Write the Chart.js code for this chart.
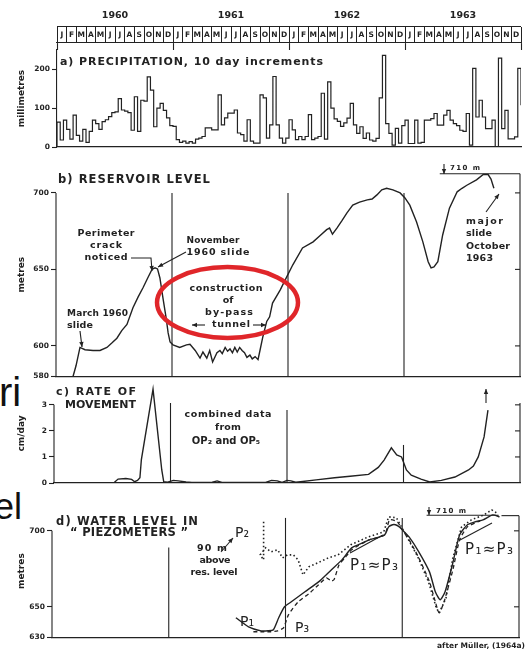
<!DOCTYPE html>
<html>
<head>
<meta charset="utf-8">
<script src="https://cdn.jsdelivr.net/npm/chart.js@4.4.0/dist/chart.umd.min.js"></script>
<style>
  html, body { margin: 0; padding: 0; background: #fff; }
  #wrap { position: relative; width: 531px; height: 653px; overflow: hidden; background: #fff; }
  canvas { position: absolute; left: 0; top: 0; }
  .frag { position: absolute; font-family: "Liberation Sans", Arial, sans-serif; color: #111; line-height: 1; white-space: nowrap; }
</style>
</head>
<body>
<div id="wrap">
  <div class="frag" style="left:-1px; top:372px; font-size:40px;">ri</div>
  <div class="frag" style="left:-6px; top:489px; font-size:36px;">el</div>
  <canvas id="cHead" width="531" height="653"></canvas>
  <canvas id="cRain" width="531" height="653"></canvas>
  <canvas id="cRes" width="531" height="653"></canvas>
  <canvas id="cRate" width="531" height="653"></canvas>
  <canvas id="cPiezo" width="531" height="653"></canvas>
</div>
<script>
// ---- data ----
const MONTHS = 'JFMAMJJASOND'.repeat(4).split('');
const YEARS = ['1960', '1961', '1962', '1963'];
const YEAR_MID = [6, 18, 30, 42];
const YEAR_LINES = [12, 24, 36];

// precipitation, mm per 10-day increment (3 per month)
const PRECIP_1960 = [64, 18, 69, 45, 20, 82, 30, 15, 45, 12, 40, 69, 60, 45, 65, 70, 78, 88, 90, 124, 95, 92, 88, 43, 129, 40, 120, 118, 180, 146, 52, 100, 112, 94, 75, 55];
const PRECIP_1961 = [53, 19, 12, 15, 10, 14, 10, 20, 23, 27, 49, 49, 44, 44, 134, 57, 75, 87, 87, 95, 36, 32, 15, 70, 15, 10, 10, 134, 126, 23, 57, 181, 57, 23, 10, 23];
const PRECIP_1962 = [70, 44, 19, 27, 19, 27, 83, 19, 23, 27, 138, 20, 167, 100, 72, 66, 53, 62, 74, 112, 57, 35, 52, 22, 36, 18, 15, 22, 126, 235, 60, 35, 5, 48, 10, 55];
const PRECIP_1963 = [69, 9, 9, 69, 10, 12, 69, 69, 73, 86, 56, 56, 82, 94, 69, 60, 55, 43, 40, 86, 5, 202, 77, 120, 77, 47, 47, 69, 0, 228, 47, 94, 21, 21, 26, 202];
const PRECIP = [...PRECIP_1960, ...PRECIP_1961, ...PRECIP_1962, ...PRECIP_1963];
const PRECIP_END = 107;
const PRECIP_TICKS = [0, 100, 200];

// reservoir level (months from Jan 1960, metres)
const RES_MONTH = [1.76, 2.07, 2.48, 3.0, 3.83, 4.55, 5.27, 5.8, 6.3, 6.8, 7.34, 7.96, 8.5, 9.0, 9.5, 9.93, 10.24, 10.5, 10.75, 11.07, 11.4, 11.6, 11.8, 12.1, 12.8, 13.5, 13.86, 14.4, 14.9, 15.2, 15.6, 15.9, 16.2, 16.65, 16.96, 17.2, 17.5, 17.75, 18.0, 18.25, 18.5, 18.75, 19.0, 19.25, 19.5, 19.75, 20.06, 20.3, 20.6, 20.9, 21.1, 21.4, 21.8, 22.1, 22.4, 23.2, 23.7, 24.5, 25.5, 26.6, 27.3, 28.0, 28.3, 28.6, 29.06, 29.6, 30.1, 30.7, 31.4, 32.2, 32.7, 33.2, 33.7, 34.2, 34.85, 35.6, 36.1, 36.6, 37.3, 37.95, 38.5, 38.8, 39.1, 39.5, 40.0, 40.7, 41.5, 42.0, 42.5, 43.5, 44.2, 44.7, 45.0, 45.3];
const RES_LEVEL = [580, 587, 599, 597.5, 597, 597, 599, 602, 605, 610, 614, 625, 632, 638, 644.5, 650, 651, 650.3, 644.4, 631, 618, 608.5, 602.6, 600.7, 599, 600.7, 601, 597, 592, 596, 592, 597, 589.5, 595.5, 597, 595, 599, 596.5, 598, 595.5, 599, 596, 599, 597, 595.5, 592.5, 594, 591.5, 593, 591, 597, 606, 616, 619, 628, 636.6, 643, 653, 664, 668, 672, 676, 677, 673, 677, 682, 687, 692, 694, 695.4, 696, 698.7, 702, 703, 702, 700, 696.7, 692, 681, 668, 655, 651, 651.6, 655, 672.5, 690, 700.7, 703, 705, 708.5, 712, 712, 709, 703];
const RES_TICKS = [580, 600, 650, 700];

// rate of movement, cm/day
const RATE_MONTH = [0, 6.2, 6.6, 7.4, 8.0, 8.3, 8.6, 8.85, 9.0, 10.2, 11.1, 11.3, 11.7, 12.3, 12.8, 13.6, 14.2, 16.3, 16.8, 17.3, 21.8, 22.4, 23.0, 23.5, 24.0, 24.4, 24.9, 25.4, 27.0, 28.9, 30.5, 32.4, 33.4, 34.0, 34.75, 35.3, 35.8, 36.3, 36.8, 37.8, 38.7, 39.9, 41.3, 42.7, 43.2, 43.7, 44.3, 44.7];
const RATE_VALUE = [0, 0.02, 0.15, 0.17, 0.14, 0.05, 0.1, 0.2, 0.9, 3.6, 0.5, 0.05, 0.03, 0.1, 0.08, 0.04, 0.02, 0.03, 0.08, 0.02, 0.02, 0.1, 0.08, 0.02, 0.1, 0.08, 0.03, 0.05, 0.12, 0.2, 0.26, 0.33, 0.6, 0.88, 1.35, 1.08, 1.0, 0.5, 0.3, 0.15, 0.04, 0.1, 0.23, 0.5, 0.65, 1.0, 1.77, 2.8];
const RATE_TICKS = [0, 1, 2, 3];

// piezometer water levels, metres
const P1_MONTH = [18.9, 20.2, 21.5, 22.2, 22.75, 23.3, 23.9, 24.6, 25.3, 26.0, 27.4, 28.7, 29.8, 30.8, 31.7, 32.6, 33.4, 34.2, 34.6, 35.0, 35.3, 35.7, 36.0, 36.7, 37.7, 38.8, 39.4, 39.9, 40.4, 41.2, 41.9, 42.7, 43.5, 44.3, 45.3, 46.0];
const P1_LEVEL = [642.8, 636.8, 634.2, 634.2, 634.9, 642.8, 650, 653.3, 656.6, 659.9, 666.4, 674.3, 680.9, 688.8, 691.4, 694.1, 695.4, 697.4, 702.6, 704, 704, 702.6, 700.7, 696, 686.2, 673, 659.9, 654.6, 659.9, 678.9, 697.4, 704, 706, 707.2, 710.5, 709.2];
const P2_MONTH = [21.75, 21.75, 21.4, 21.96, 22.5, 23.2, 23.7, 24.2, 24.8, 25.3, 25.8, 26.4, 27.3, 28.4, 29.4, 30.7, 32.5, 34.1, 34.6, 35.4, 36.2, 37.6, 38.7, 39.5, 39.8, 40.5, 41.2, 42.1, 43.1, 44.4, 45.2, 45.7];
const P2_LEVEL = [705.9, 680.9, 684.2, 688.8, 686.2, 687.5, 682.2, 684.2, 684.2, 680.9, 671, 676.3, 678.9, 682.2, 684.2, 690.8, 696, 699.3, 709.2, 708.6, 699.3, 682.9, 666.4, 649.3, 646, 655.9, 682.2, 702.6, 707.2, 710.5, 713.8, 711.8];
const P3_MONTH = [20.7, 21.7, 22.5, 23.2, 23.8, 24.3, 25.3, 26.4, 27.4, 28.2, 28.7, 29.0, 29.5, 30.1, 30.8, 32.6, 34.2, 34.7, 35.5, 36.0, 36.7, 37.7, 38.8, 39.4, 39.8, 40.3, 41.2, 41.9, 42.7, 44.0];
const P3_LEVEL = [633.6, 633.6, 633.6, 634.2, 636.2, 644.7, 653.3, 658.6, 664.5, 669, 667, 668, 677.6, 682.2, 687.5, 694.1, 697.4, 707.2, 705.9, 700.7, 694.1, 682.2, 666.4, 653.3, 646, 653.3, 674.3, 694.1, 702.6, 706.6];
const PIEZO_TICKS = [630, 650, 700];

// ---- drawing ----
const INK = '#222';
const FONT = '"DejaVu Sans", "Liberation Sans", sans-serif';

function path(ctx, p, head) {
  ctx.beginPath();
  ctx.moveTo(p[0][0], p[0][1]);
  for (let i = 1; i < p.length; i++) ctx.lineTo(p[i][0], p[i][1]);
  ctx.stroke();
  if (head) {
    const [x2, y2] = p[p.length - 1], [x1, y1] = p[p.length - 2];
    const a = Math.atan2(y2 - y1, x2 - x1), L = 5, W = 2.2;
    ctx.beginPath();
    ctx.moveTo(x2, y2);
    ctx.lineTo(x2 - L * Math.cos(a) + W * Math.sin(a), y2 - L * Math.sin(a) - W * Math.cos(a));
    ctx.lineTo(x2 - L * Math.cos(a) - W * Math.sin(a), y2 - L * Math.sin(a) + W * Math.cos(a));
    ctx.closePath();
    ctx.fill();
  }
}

function label(ctx, it) {
  ctx.font = (it.n ? '' : 'bold ') + (it.size || 9.5) + 'px ' + FONT;
  if ('letterSpacing' in ctx) ctx.letterSpacing = '0px';
  const mw = ctx.measureText(it.s).width;
  let total = mw;
  if (it.w && 'letterSpacing' in ctx) {
    const n = [...it.s].length;
    const sp = (it.w - mw) / Math.max(1, n - 1);
    ctx.letterSpacing = sp.toFixed(2) + 'px';
    total = it.w;
  }
  const x = it.a === 'c' ? it.x - total / 2 : it.x;
  ctx.textAlign = 'left';
  ctx.textBaseline = 'middle';
  ctx.fillText(it.s, x, it.y);
  if ('letterSpacing' in ctx) ctx.letterSpacing = '0px';
}

const DECOR = {};
const decor = {
  id: 'decor',
  afterDatasetsDraw(chart) {
    const items = DECOR[chart.canvas.id] || [];
    const ctx = chart.ctx, xs = chart.scales.x, ys = chart.scales.y;
    const X = m => xs.getPixelForValue(m), Y = v => ys.getPixelForValue(v);
    ctx.save();
    ctx.strokeStyle = INK; ctx.fillStyle = INK; ctx.lineWidth = 1.1;
    items.forEach(it => {
      if (it.k === 'v') path(ctx, [[X(it.m), Y(it.a)], [X(it.m), Y(it.b)]]);
      else if (it.k === 'h') path(ctx, [[X(it.a), Y(it.v)], [X(it.b), Y(it.v)]]);
      else if (it.k === 'rt') it.vals.forEach(v => path(ctx, [[X(48), Y(v)], [X(48) - 5, Y(v)]]));
      else if (it.k === 'a') path(ctx, it.p, it.head);
      else if (it.k === 't') label(ctx, it);
      else if (it.k === 'e') {
        ctx.save();
        ctx.strokeStyle = it.c; ctx.lineWidth = it.lw;
        ctx.beginPath();
        ctx.ellipse(it.x, it.y, it.rx, it.ry, 0, 0, 2 * Math.PI);
        ctx.stroke();
        ctx.restore();
      }
    });
    ctx.restore();
  }
};

function pts(xs, ys) { return xs.map((x, i) => ({ x: x, y: ys[i] })); }

function yAxis(min, max, ticks, title, left, border) {
  return {
    min: min, max: max,
    afterFit: s => { s.width = left; },
    afterBuildTicks: s => { s.ticks = ticks.map(v => ({ value: v })); },
    ticks: { color: INK, font: { family: FONT, size: 7.5, weight: 'bold' }, padding: 2 },
    grid: { drawOnChartArea: false, color: INK, tickLength: 5, tickWidth: 1.1 },
    border: { display: border, color: INK, width: 1.1 },
    title: { display: true, text: title, color: INK, font: { family: FONT, size: 9, weight: 'bold' }, padding: { top: 16, bottom: 0 } }
  };
}

function panel(id, box, y, datasets) {
  return new Chart(document.getElementById(id), {
    type: 'line',
    data: { datasets: datasets },
    options: {
      responsive: false, animation: false, events: [],
      layout: { padding: { left: 0, right: 531 - box.right, top: box.top, bottom: 653 - box.bottom } },
      plugins: { legend: { display: false }, tooltip: { enabled: false } },
      elements: { point: { radius: 0 }, line: { borderColor: INK, borderWidth: 1.4, fill: false } },
      scales: {
        x: {
          type: 'linear', min: 0, max: 48,
          ticks: { display: false }, grid: { display: false, drawTicks: false },
          border: { display: true, color: INK, width: 1.2 },
          afterFit: s => { s.height = 0; }
        },
        y: y
      }
    },
    plugins: [decor]
  });
}

// month / year header
new Chart(document.getElementById('cHead'), {
  type: 'line',
  data: { datasets: [] },
  options: {
    responsive: false, animation: false, events: [],
    layout: { padding: { left: 0, right: 10, top: 0, bottom: 653 - 43 - 7 } },
    plugins: { legend: { display: false }, tooltip: { enabled: false } },
    scales: {
      months: {
        type: 'category', axis: 'x', position: 'bottom', labels: MONTHS, offset: true,
        grid: {
          offset: true, color: INK, lineWidth: 1, tickLength: 7, tickWidth: 1.1,
          tickColor: c => (c.index === undefined || c.index % 12 === 0) ? INK : 'rgba(0,0,0,0)'
        },
        border: { display: true, color: INK, width: 1.1 },
        ticks: { color: INK, font: { family: FONT, size: 7.5, weight: 'bold' }, mirror: true, padding: 3.5, maxRotation: 0, autoSkip: false },
        afterFit: s => { s.height = 7; }
      },
      years: {
        type: 'linear', axis: 'x', position: 'top', min: 0, max: 48,
        afterBuildTicks: s => { s.ticks = YEAR_MID.map(v => ({ value: v })); },
        ticks: { callback: (v, i) => YEARS[i], color: INK, font: { family: FONT, size: 9.5, weight: 'bold' }, padding: 6, maxRotation: 0 },
        grid: { display: false, drawTicks: false }, border: { display: false },
        afterFit: s => { s.height = 27; }
      },
      y: {
        min: 0, max: 1,
        afterBuildTicks: s => { s.ticks = [{ value: 0 }, { value: 1 }]; },
        ticks: { display: false },
        grid: { color: INK, lineWidth: 1.1, drawTicks: false },
        border: { display: false },
        afterFit: s => { s.width = 57; }
      }
    }
  }
});

// a) precipitation
DECOR.cRain = [
  { k: 't', s: 'a) PRECIPITATION, 10 day increments', x: 60, y: 62, size: 11, w: 263 }
];
panel('cRain', { left: 57, right: 521, top: 50, bottom: 147 },
  yAxis(0, 249, PRECIP_TICKS, 'millimetres', 57, true),
  [{ data: [{ x: 0, y: 0 }, ...pts(PRECIP.map((v, i) => i / 3), PRECIP), { x: 48, y: PRECIP_END }], stepped: true, borderWidth: 1.2 }]);

// b) reservoir level
DECOR.cRes = [
  { k: 'v', m: 0, a: 580, b: 700 },
  { k: 'v', m: 48, a: 580, b: 712.5 },
  { k: 'rt', vals: [600, 650, 700] },
  ...YEAR_LINES.map(m => ({ k: 'v', m: m, a: 580, b: 700 })),
  { k: 'h', v: 712.5, a: 39.7, b: 48 },
  { k: 't', s: 'b) RESERVOIR LEVEL', x: 58, y: 180, size: 11.5, w: 152 },
  { k: 't', s: '710 m', x: 450, y: 168, size: 7, w: 30 },
  { k: 'a', p: [[444, 164], [444, 174]], head: true },
  { k: 't', s: 'Perimeter', x: 106, y: 234, a: 'c', w: 57 },
  { k: 't', s: 'crack', x: 106, y: 246, a: 'c', w: 32 },
  { k: 't', s: 'noticed', x: 106, y: 258, a: 'c', w: 43 },
  { k: 'a', p: [[131, 258], [151, 258], [152, 271]], head: true },
  { k: 't', s: 'November', x: 213, y: 241, a: 'c', size: 9, w: 53 },
  { k: 't', s: '1960 slide', x: 218, y: 253, a: 'c', w: 63 },
  { k: 'a', p: [[186, 252], [158, 267]], head: true },
  { k: 't', s: 'March 1960', x: 67, y: 314, size: 9, w: 61 },
  { k: 't', s: 'slide', x: 67, y: 326, w: 26 },
  { k: 'a', p: [[80, 331], [82, 347]], head: true },
  { k: 't', s: 'construction', x: 226, y: 289, a: 'c', w: 73 },
  { k: 't', s: 'of', x: 228, y: 301, a: 'c' },
  { k: 't', s: 'by-pass', x: 229, y: 313, a: 'c', w: 48 },
  { k: 't', s: 'tunnel', x: 231, y: 325, a: 'c', w: 38 },
  { k: 'a', p: [[205, 325], [192, 325]], head: true },
  { k: 'a', p: [[253, 325], [266, 325]], head: true },
  { k: 't', s: 'major', x: 466, y: 222, w: 37 },
  { k: 't', s: 'slide', x: 466, y: 234, w: 26 },
  { k: 't', s: 'October', x: 466, y: 247, w: 44 },
  { k: 't', s: '1963', x: 466, y: 259, w: 27 },
  { k: 'a', p: [[486, 212], [499, 194]], head: true },
  { k: 'e', x: 227.5, y: 302.5, rx: 70.5, ry: 35.5, lw: 4.5, c: '#e0262a' }
];
panel('cRes', { left: 56, right: 520, top: 173, bottom: 376.5 },
  yAxis(580, 713, RES_TICKS, 'metres', 56, false),
  [{ data: pts(RES_MONTH, RES_LEVEL), tension: 0 }]);

// c) rate of movement
DECOR.cRate = [
  { k: 'v', m: 0, a: 0, b: 3 },
  { k: 'v', m: 48, a: 0, b: 3.07 },
  { k: 'rt', vals: [1, 2, 3] },
  { k: 'v', m: 12, a: 0, b: 3.07 },
  { k: 'v', m: 24, a: 0, b: 2.8 },
  { k: 'v', m: 36, a: 0, b: 1.46 },
  { k: 't', s: 'c) RATE OF', x: 56, y: 392, size: 11, w: 80 },
  { k: 't', s: 'MOVEMENT', x: 65, y: 405, size: 11, w: 71 },
  { k: 't', s: 'combined data', x: 228, y: 415, a: 'c', w: 87 },
  { k: 't', s: 'from', x: 228, y: 428, a: 'c', w: 26 },
  { k: 't', s: 'OP\u2082 and OP\u2085', x: 226, y: 441, a: 'c', size: 10 },
  { k: 'a', p: [[486, 403], [486, 389]], head: true }
];
panel('cRate', { left: 54, right: 520, top: 384, bottom: 483 },
  yAxis(0, 3.8, RATE_TICKS, 'cm/day', 54, false),
  [{ data: pts(RATE_MONTH, RATE_VALUE), tension: 0 }]);

// d) water level in piezometers
DECOR.cPiezo = [
  { k: 'v', m: 0, a: 630, b: 700 },
  { k: 'v', m: 48, a: 630, b: 710 },
  { k: 'rt', vals: [650, 700] },
  { k: 'v', m: 12, a: 630, b: 689 },
  { k: 'v', m: 24, a: 630, b: 708.5 },
  { k: 'v', m: 36, a: 630, b: 708.5 },
  { k: 'h', v: 710.3, a: 38.5, b: 45.9 },
  { k: 'h', v: 710, a: 46.2, b: 48 },
  { k: 't', s: '710 m', x: 436, y: 511, size: 7, w: 30 },
  { k: 'a', p: [[429, 507], [429, 515]], head: true },
  { k: 't', s: 'd) WATER LEVEL IN', x: 56, y: 522, size: 11.5, w: 142 },
  { k: 't', s: '\u201C PIEZOMETERS \u201D', x: 70, y: 533, size: 11.5, w: 118 },
  { k: 't', s: 'P\u2082', x: 235, y: 533, size: 14, n: true },
  { k: 'a', p: [[221, 552], [233, 538]], head: true },
  { k: 't', s: '90 m', x: 212, y: 549, a: 'c', w: 30 },
  { k: 't', s: 'above', x: 215, y: 561, a: 'c', w: 31 },
  { k: 't', s: 'res. level', x: 214, y: 573, a: 'c', w: 47 },
  { k: 't', s: 'P\u2081', x: 240, y: 622, size: 14, n: true },
  { k: 't', s: 'P\u2083', x: 295, y: 628, size: 14, n: true },
  { k: 't', s: 'P\u2081\u2248P\u2083', x: 350, y: 566, size: 15, n: true, w: 48 },
  { k: 'a', p: [[350, 553], [383, 535]] },
  { k: 't', s: 'P\u2081\u2248P\u2083', x: 465, y: 550, size: 15, n: true, w: 48 },
  { k: 'a', p: [[460, 540], [492, 523]] },
  { k: 't', s: 'after M\u00fcller, (1964a)', x: 437, y: 646, size: 7.5, w: 88 }
];
panel('cPiezo', { left: 52, right: 519, top: 505, bottom: 637.2 },
  yAxis(630, 717, PIEZO_TICKS, 'metres', 52, false),
  [
    { data: pts(P1_MONTH, P1_LEVEL), tension: 0.2, borderWidth: 1.4 },
    { data: pts(P3_MONTH, P3_LEVEL), tension: 0.2, borderWidth: 1.3, borderDash: [4, 3] },
    { data: pts(P2_MONTH, P2_LEVEL), tension: 0, borderWidth: 1.6, borderDash: [1.5, 2.5] }
  ]);
</script>
</body>
</html>
